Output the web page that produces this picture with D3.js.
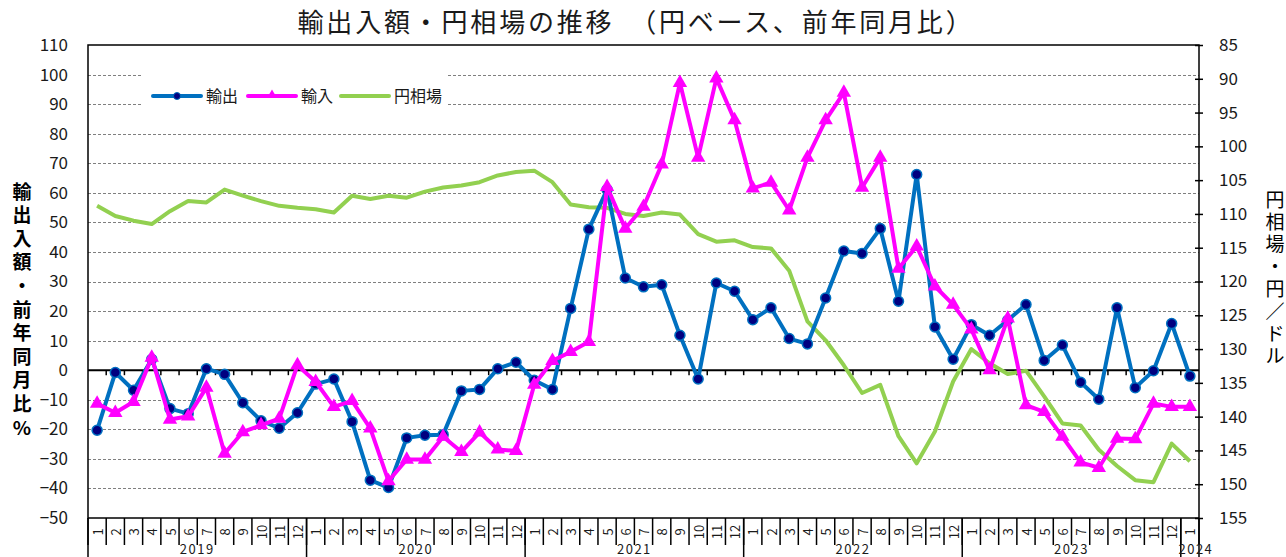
<!DOCTYPE html>
<html>
<head>
<meta charset="utf-8">
<script src="https://cdn.jsdelivr.net/npm/d3@7"></script>
<style>
  html, body { margin: 0; padding: 0; background: #fff; }
  svg { display: block; font-family: "Noto Sans CJK JP", "Noto Sans", sans-serif; }
</style>
</head>
<body>
<div id="chart"></div>
<script>
// months Jan 2019 .. Jan 2024
const monthLabels = [
    "1","2","3","4","5","6","7","8","9","10","11","12",
    "1","2","3","4","5","6","7","8","9","10","11","12",
    "1","2","3","4","5","6","7","8","9","10","11","12",
    "1","2","3","4","5","6","7","8","9","10","11","12",
    "1","2","3","4","5","6","7","8","9","10","11","12",
    "1"
];
const years = ["2019", "2020", "2021", "2022", "2023", "2024"];
const yearMonths = [12, 12, 12, 12, 12, 1];

// 輸出 (% yoy)
const exportsYoY = [
    -20.3, -0.8, -6.8, 3.7, -13.0, -14.7, 0.5, -1.4, -11.0, -17.1, -19.6, -14.4,
    -4.7, -3.0, -17.4, -37.2, -39.7, -22.9, -22.0, -21.8, -7.0, -6.5, 0.5, 2.7,
    -3.4, -6.5, 20.9, 47.7, 61.1, 31.2, 28.2, 28.9, 11.8, -3.0, 29.5, 26.7,
    17.1, 21.1, 10.7, 8.9, 24.4, 40.3, 39.5, 47.9, 23.3, 66.2, 14.6, 3.7,
    15.4, 11.8, 16.9, 22.2, 3.3, 8.5, -4.1, -9.8, 21.1, -5.9, -0.2, 15.8,
    -2.0
];
// 輸入 (% yoy)
const importsYoY = [
    -11.3, -14.4, -10.7, 4.3, -16.7, -15.6, -5.9, -28.2, -20.9, -18.6, -16.4, 1.7,
    -3.9, -12.4, -10.4, -19.7, -37.5, -30.2, -30.2, -22.5, -27.6, -21.0, -26.8, -27.3,
    -4.9, 3.2, 6.2, 9.6, 62.0, 47.9, 55.3, 69.6, 97.2, 71.9, 98.7, 84.6,
    61.5, 63.5, 54.1, 71.9, 84.6, 93.9, 61.8, 71.9, 34.4, 41.9, 28.4, 22.2,
    13.8, 0.0, 17.5, -11.8, -14.1, -22.5, -31.2, -33.0, -23.1, -23.3, -11.3, -12.4,
    -12.4
];
// 円相場 (円/ドル)
const yenRate = [
    108.8, 110.3, 111.0, 111.5, 109.6, 108.1, 108.3, 106.4, 107.3, 108.1, 108.8, 109.1,
    109.3, 109.8, 107.3, 107.8, 107.3, 107.6, 106.7, 106.1, 105.8, 105.3, 104.3, 103.8,
    103.6, 105.3, 108.6, 109.0, 109.1, 110.0, 110.3, 109.8, 110.1, 113.0, 114.1, 113.9,
    114.9, 115.1, 118.4, 125.9, 128.7, 132.4, 136.5, 135.3, 142.9, 146.9, 142.2, 134.8,
    130.0, 132.1, 133.7, 133.2, 137.0, 141.0, 141.3, 144.9, 147.3, 149.4, 149.7, 144.0,
    146.6
];

const leftTicks = d3.range(-50, 111, 10);
const rightTicks = d3.range(85, 156, 5);

const COLOURS = {
    EXPORT: "#0070C0",
    EXPORT_MARK: "#000080",
    IMPORT: "#FF00FF",
    YEN: "#92D050",
    GRID: "#7f7f7f",
    TEXT: "#1a1a1a"
};

const width = 1286, height = 557;
const plot = {left: 88, right: 1199, top: 45, bottom: 518};

const svg = d3.select("#chart").append("svg")
    .attr("width", width)
    .attr("height", height);

const x = d3.scaleBand()
    .domain(d3.range(monthLabels.length))
    .range([plot.left, plot.right])
    .padding(0);
const xEdge = d3.scaleLinear()
    .domain([0, monthLabels.length])
    .range([plot.left, plot.right]);
const cx = i => x(i) + x.bandwidth() / 2;

const yLeft = d3.scaleLinear().domain([-50, 110]).range([plot.bottom, plot.top]);
const yRight = d3.scaleLinear().domain([85, 155]).range([plot.top, plot.bottom]);

// title
svg.append("text")
    .attr("x", 636)
    .attr("y", 32)
    .attr("text-anchor", "middle")
    .attr("fill", COLOURS.TEXT)
    .style("font-size", "26px")
    .style("letter-spacing", "2.8px")
    .text("輸出入額・円相場の推移　（円ベース、前年同月比）");

// gridlines (dashed)
svg.append("g")
    .selectAll("line")
    .data(leftTicks.filter(d => d !== 0 && d !== 110 && d !== -50))
    .enter()
    .append("line")
    .attr("x1", plot.left)
    .attr("x2", plot.right)
    .attr("y1", d => Math.round(yLeft(d)) + 0.5)
    .attr("y2", d => Math.round(yLeft(d)) + 0.5)
    .attr("stroke", COLOURS.GRID)
    .attr("stroke-width", 1)
    .attr("stroke-dasharray", "3,2");

// left axis labels
const leftAxis = svg.append("g")
    .attr("transform", `translate(${plot.left},0)`)
    .call(d3.axisLeft(yLeft).tickValues(leftTicks).tickSize(0).tickPadding(20)
        .tickFormat(d => d < 0 ? "−" + Math.abs(d) : d));
leftAxis.select(".domain").remove();
leftAxis.selectAll("text")
    .attr("fill", COLOURS.TEXT)
    .style("font-size", "17px")
    .style("font-family", "'Noto Sans CJK JP', sans-serif");

// right axis
const rightAxis = svg.append("g")
    .attr("transform", `translate(${plot.right},0)`)
    .call(d3.axisRight(yRight).tickValues(rightTicks).tickSize(4).tickPadding(16));
rightAxis.select(".domain").remove();
rightAxis.selectAll(".tick line")
    .attr("x1", -4)
    .attr("stroke", "#000")
    .attr("stroke-width", 1.5);
rightAxis.selectAll("text")
    .attr("fill", COLOURS.TEXT)
    .style("font-size", "17px")
    .style("font-family", "'Noto Sans CJK JP', sans-serif");

// plot frame
svg.append("rect")
    .attr("x", plot.left)
    .attr("y", plot.top)
    .attr("width", plot.right - plot.left)
    .attr("height", plot.bottom - plot.top)
    .attr("fill", "none")
    .attr("stroke", "#000")
    .attr("stroke-width", 1.5);

// zero line with small ticks
svg.append("line")
    .attr("x1", plot.left)
    .attr("x2", plot.right)
    .attr("y1", yLeft(0))
    .attr("y2", yLeft(0))
    .attr("stroke", "#000")
    .attr("stroke-width", 2);
svg.append("g")
    .selectAll("line")
    .data(d3.range(1, monthLabels.length))
    .enter()
    .append("line")
    .attr("x1", d => xEdge(d))
    .attr("x2", d => xEdge(d))
    .attr("y1", yLeft(0))
    .attr("y2", yLeft(0) + 5)
    .attr("stroke", "#000")
    .attr("stroke-width", 1.5);

// month boxes
svg.append("g")
    .selectAll("line")
    .data(d3.range(0, monthLabels.length + 1))
    .enter()
    .append("line")
    .attr("x1", d => xEdge(d))
    .attr("x2", d => xEdge(d))
    .attr("y1", plot.bottom)
    .attr("y2", plot.bottom + 27)
    .attr("stroke", "#000")
    .attr("stroke-width", 1.5);

svg.append("g")
    .selectAll("text")
    .data(monthLabels)
    .enter()
    .append("text")
    .attr("transform", (d, i) => `translate(${cx(i) + 1},${plot.bottom + 14}) rotate(-90)`)
    .attr("text-anchor", "middle")
    .attr("dy", "0.35em")
    .attr("fill", COLOURS.TEXT)
    .style("font-size", "13px")
    .text(d => d);

// year groups
const yearStarts = yearMonths.map((n, i) => d3.sum(yearMonths.slice(0, i)));
svg.append("g")
    .selectAll("line")
    .data(yearStarts.concat([monthLabels.length]))
    .enter()
    .append("line")
    .attr("x1", d => xEdge(d))
    .attr("x2", d => xEdge(d))
    .attr("y1", plot.bottom)
    .attr("y2", height)
    .attr("stroke", "#000")
    .attr("stroke-width", 1.5);

svg.append("g")
    .selectAll("text")
    .data(years)
    .enter()
    .append("text")
    .attr("x", (d, i) => xEdge(yearStarts[i] + yearMonths[i] / 2) + (i === years.length - 1 ? 6 : 0))
    .attr("y", 554)
    .attr("text-anchor", "middle")
    .attr("fill", COLOURS.TEXT)
    .style("font-size", "13px")
    .style("letter-spacing", "1.5px")
    .text(d => d);

// axis titles (vertical, one char per row)
const leftTitle = Array.from("輸出入額・前年同月比%");
svg.append("g")
    .selectAll("text")
    .data(leftTitle)
    .enter()
    .append("text")
    .attr("x", 22)
    .attr("y", (d, i) => 192 + i * 23.6)
    .attr("dy", "0.35em")
    .attr("text-anchor", "middle")
    .attr("fill", "#000")
    .style("font-size", "19px")
    .style("font-weight", "bold")
    .text(d => d);

const rightTitle = Array.from("円相場・円／ドル");
svg.append("g")
    .selectAll("text")
    .data(rightTitle)
    .enter()
    .append("text")
    .attr("x", 1275)
    .attr("y", (d, i) => 200 + i * 22.4)
    .attr("dy", "0.35em")
    .attr("text-anchor", "middle")
    .attr("fill", "#000")
    .style("font-size", "19px")
    .text(d => d);

// series
const lineLeft = d3.line().x((d, i) => cx(i)).y(d => yLeft(d));
const lineRight = d3.line().x((d, i) => cx(i)).y(d => yRight(d));

svg.append("path")
    .datum(yenRate)
    .attr("fill", "none")
    .attr("stroke", COLOURS.YEN)
    .attr("stroke-width", 4)
    .attr("stroke-linejoin", "round")
    .attr("d", lineRight);

svg.append("path")
    .datum(exportsYoY)
    .attr("fill", "none")
    .attr("stroke", COLOURS.EXPORT)
    .attr("stroke-width", 4)
    .attr("stroke-linejoin", "round")
    .attr("d", lineLeft);
svg.append("g")
    .selectAll("circle")
    .data(exportsYoY)
    .enter()
    .append("circle")
    .attr("cx", (d, i) => cx(i))
    .attr("cy", d => yLeft(d))
    .attr("r", 5)
    .attr("fill", COLOURS.EXPORT_MARK)
    .attr("stroke", COLOURS.EXPORT)
    .attr("stroke-width", 1.5);

svg.append("path")
    .datum(importsYoY)
    .attr("fill", "none")
    .attr("stroke", COLOURS.IMPORT)
    .attr("stroke-width", 4)
    .attr("stroke-linejoin", "round")
    .attr("d", lineLeft);
const tri = d3.symbol().type(d3.symbolTriangle).size(90);
svg.append("g")
    .selectAll("path")
    .data(importsYoY)
    .enter()
    .append("path")
    .attr("transform", (d, i) => `translate(${cx(i)},${yLeft(d)})`)
    .attr("d", tri)
    .attr("fill", COLOURS.IMPORT);

// legend
const legend = svg.append("g");
legend.append("rect")
    .attr("x", 143)
    .attr("y", 66)
    .attr("width", 304)
    .attr("height", 56)
    .attr("fill", "#fff");

const legendItems = [
    {label: "輸出", colour: COLOURS.EXPORT, x: 153, mark: "circle"},
    {label: "輸入", colour: COLOURS.IMPORT, x: 248, mark: "triangle"},
    {label: "円相場", colour: COLOURS.YEN, x: 341, mark: "none"}
];
const ly = 96;
const items = legend.selectAll(".legend-item")
    .data(legendItems)
    .enter()
    .append("g")
    .attr("class", "legend-item")
    .attr("transform", d => `translate(${d.x},${ly})`);
items.append("line")
    .attr("x1", 0)
    .attr("x2", 48)
    .attr("stroke", d => d.colour)
    .attr("stroke-width", 4)
    .attr("stroke-linecap", "round");
items.filter(d => d.mark === "circle")
    .append("circle")
    .attr("cx", 24)
    .attr("r", 3.5)
    .attr("fill", COLOURS.EXPORT_MARK)
    .attr("stroke", COLOURS.EXPORT)
    .attr("stroke-width", 1);
items.filter(d => d.mark === "triangle")
    .append("path")
    .attr("transform", "translate(24,-1)")
    .attr("d", d3.symbol().type(d3.symbolTriangle).size(40))
    .attr("fill", COLOURS.IMPORT);
items.append("text")
    .attr("x", 53)
    .attr("dy", "0.35em")
    .attr("fill", COLOURS.TEXT)
    .style("font-size", "16px")
    .text(d => d.label);
</script>
</body>
</html>
